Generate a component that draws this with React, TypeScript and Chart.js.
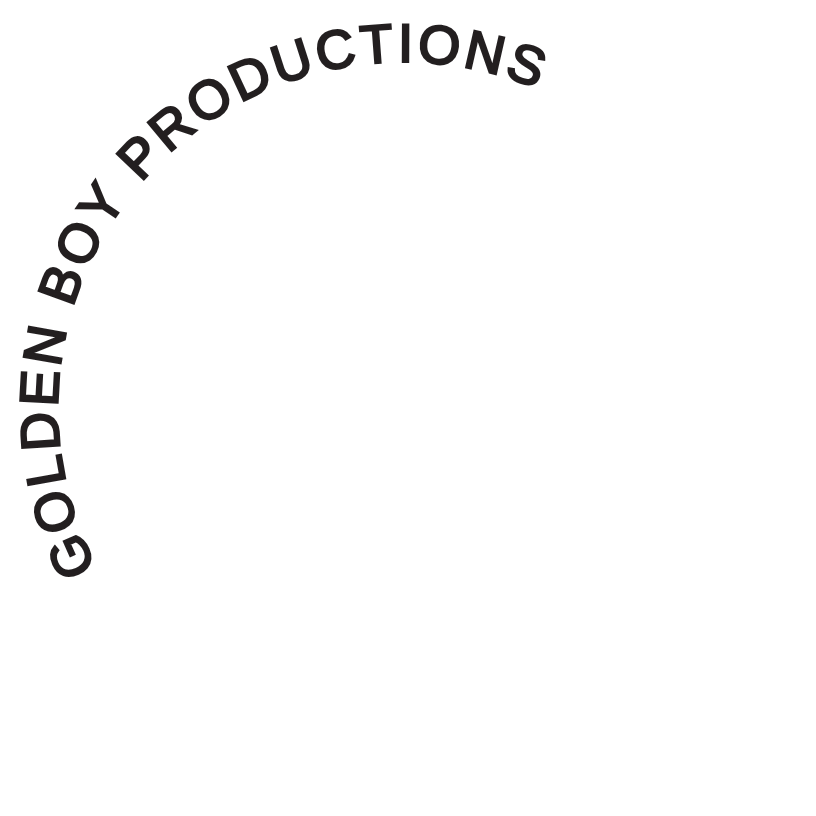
import React, { useEffect, useRef } from "react";
import { Chart, registerables } from "chart.js";

Chart.register(...registerables);

// Words set along the arc
const words: string[] = ["GOLDEN", "BOY", "PRODUCTIONS"];
// A single invisible ring segment that carries the arc geometry
const ringLabels: string[] = ["Golden Boy Productions"];
const ringValues: number[] = [1];

const TEXT_COLOR = "#231f20";
const FONT_SIZE = 54;
const LETTER_SPACING = 3.5;
const START_ANGLE_DEG = 152.4;
const STROKE_W = 2.4;

const arcTextPlugin = {
  id: "arcText",
  afterDatasetsDraw(chart: any) {
    const meta = chart.getDatasetMeta(0);
    const arc = meta && meta.data && meta.data[0];
    if (!arc) return;
    const { x: cx, y: cy, outerRadius: r } = arc.getProps(["x", "y", "outerRadius"], true);
    const ctx: CanvasRenderingContext2D = chart.ctx;
    const text = words.join(" ");
    ctx.save();
    ctx.font = `${FONT_SIZE}px "Liberation Sans", Arial, sans-serif`;
    ctx.fillStyle = TEXT_COLOR;
    ctx.strokeStyle = TEXT_COLOR;
    ctx.lineWidth = STROKE_W;
    ctx.lineJoin = "miter";
    ctx.textAlign = "center";
    ctx.textBaseline = "alphabetic";
    let theta = (START_ANGLE_DEG * Math.PI) / 180;
    for (const ch of text) {
      const w = ctx.measureText(ch).width;
      const tc = theta + w / 2 / r;
      ctx.save();
      ctx.translate(cx + r * Math.cos(tc), cy + r * Math.sin(tc));
      ctx.rotate(tc + Math.PI / 2);
      if (ch !== " ") {
        ctx.fillText(ch, 0, -STROKE_W / 2);
        ctx.strokeText(ch, 0, -STROKE_W / 2);
      }
      ctx.restore();
      theta += (w + LETTER_SPACING) / r;
    }
    ctx.restore();
  },
};

export default function App() {
  const canvasRef = useRef<HTMLCanvasElement | null>(null);
  useEffect(() => {
    if (!canvasRef.current) return;
    const chart = new Chart(canvasRef.current, {
      type: "doughnut",
      data: {
        labels: ringLabels,
        datasets: [
          {
            data: ringValues,
            backgroundColor: "rgba(0,0,0,0)",
            borderWidth: 0,
            hoverBackgroundColor: "rgba(0,0,0,0)",
          },
        ],
      },
      options: {
        animation: false,
        responsive: true,
        maintainAspectRatio: false,
        cutout: "99%",
        layout: { padding: { left: 59, right: 67, top: 63, bottom: 63 } },
        plugins: {
          legend: { display: false },
          tooltip: { enabled: false },
          title: { display: false },
        },
        events: [],
      },
      plugins: [arcTextPlugin],
    });
    return () => chart.destroy();
  }, []);
  return (
    <div
      style={{
        position: "fixed",
        left: 0,
        top: 0,
        width: 816,
        height: 816,
        background: "#ffffff",
      }}
    >
      <canvas ref={canvasRef} />
    </div>
  );
}
